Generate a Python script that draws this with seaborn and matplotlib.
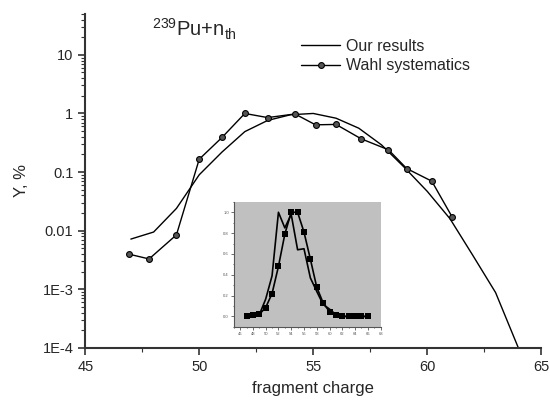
import numpy as np
import pandas as pd
import matplotlib
matplotlib.use('Agg')
import matplotlib.pyplot as plt
import seaborn as sns

# main plot data (log scale, %)
our_z = [47, 48, 49, 50, 51, 52, 53, 54, 55, 56, 57, 58, 59, 60, 61, 62, 63, 64]
our_y = [0.0072, 0.0095, 0.024, 0.09, 0.22, 0.49, 0.76, 0.95, 1.0, 0.83, 0.56, 0.29,
         0.12, 0.047, 0.016, 0.0038, 0.00088, 0.0001]

wahl_z = [46.9, 47.8, 49.0, 50.0, 51.0, 52.0, 53.0, 54.2, 55.1, 56.0, 57.1, 58.3, 59.1, 60.2, 61.1]
wahl_y = [0.0040, 0.0033, 0.0085, 0.166, 0.39, 1.0, 0.85, 0.98, 0.64, 0.65, 0.37, 0.24,
          0.115, 0.070, 0.017]

# inset data (linear, normalised)
ins_z = [47, 48, 49, 50, 51, 52, 53, 54, 55, 56, 57, 58, 59, 60, 61, 62, 63, 64, 65, 66]
ins_sq = [0.0, 0.01, 0.02, 0.085, 0.22, 0.48, 0.79, 1.0, 1.0, 0.81, 0.55, 0.28,
          0.13, 0.045, 0.013, 0.0, 0.0, 0.0, 0.0, 0.0]
ins_line = [0.0, 0.005, 0.015, 0.166, 0.39, 1.0, 0.85, 0.98, 0.64, 0.65, 0.37, 0.24,
            0.115, 0.07, 0.017, 0.0, 0.0, 0.0, 0.0, 0.0]

yticks = [1e-4, 1e-3, 1e-2, 1e-1, 1, 10]
ytick_labels = ['1E-4', '1E-3', '0.01', '0.1', '1', '10']

sns.set_style('ticks')
plt.rcParams['font.family'] = ['Liberation Sans', 'DejaVu Sans']
plt.rcParams['mathtext.fontset'] = 'custom'
plt.rcParams['mathtext.rm'] = 'Liberation Sans'
plt.rcParams['mathtext.it'] = 'Liberation Sans'

fig = plt.figure(figsize=(5.5, 4.07), dpi=100)
ax = fig.add_axes([0.155, 0.145, 0.829, 0.821])

df_our = pd.DataFrame({'z': our_z, 'y': our_y})
df_wahl = pd.DataFrame({'z': wahl_z, 'y': wahl_y})

sns.lineplot(data=df_our, x='z', y='y', ax=ax, color='black', lw=1.0,
             sort=False, label='Our results')
sns.lineplot(data=df_wahl, x='z', y='y', ax=ax, color='black', lw=1.0,
             marker='o', markersize=4.2, markerfacecolor='#555555',
             markeredgecolor='black', markeredgewidth=0.8,
             sort=False, label='Wahl systematics')

ax.set_yscale('log')
ax.set_xlim(45, 65)
ax.set_ylim(1e-4, 50)
ax.set_yticks(yticks)
ax.set_yticklabels(ytick_labels)
ax.set_xticks([45, 50, 55, 60, 65])
ax.set_xticks([47.5, 52.5, 57.5, 62.5], minor=True)
ax.tick_params(axis='both', which='major', labelsize=10.5, length=5, width=1.2, color='#333333')
ax.tick_params(axis='both', which='minor', length=3, width=0.8, color='#333333')
for s in ['top', 'right']:
    ax.spines[s].set_visible(False)
for s in ['left', 'bottom']:
    ax.spines[s].set_linewidth(1.5)
    ax.spines[s].set_color('#333333')

ax.set_xlabel('fragment charge', fontsize=12, labelpad=5)
ax.set_ylabel('Y, %', fontsize=12, labelpad=10)

ax.text(0.147, 0.99, r'$^{239}$Pu+n$_{\mathrm{th}}$', transform=ax.transAxes,
        fontsize=14.5, va='top', ha='left')

leg = ax.legend(loc='upper left', bbox_to_anchor=(0.46, 0.945), frameon=False,
                fontsize=11.5, handlelength=2.4, handletextpad=0.4, labelspacing=0.3,
                borderaxespad=0)

# inset
ins = fig.add_axes([0.425, 0.197, 0.267, 0.307])
ins.set_facecolor('#c0c0c0')
df_ins = pd.DataFrame({'z': ins_z, 'sq': ins_sq, 'ln': ins_line})
sns.lineplot(data=df_ins, x='z', y='ln', ax=ins, color='black', lw=1.2, sort=False)
sns.lineplot(data=df_ins, x='z', y='sq', ax=ins, color='black', lw=1.2, sort=False,
             marker='s', markersize=3.8, markeredgewidth=0)
ins.set_xlim(45, 68)
ins.set_ylim(-0.1, 1.1)
ins.set_xticks(np.arange(46, 69, 2))
ins.set_xticks(np.arange(45, 69, 1), minor=True)
ins.set_yticks([0.0, 0.2, 0.4, 0.6, 0.8, 1.0])
ins.set_yticklabels(['0.0', '0.2', '0.4', '0.6', '0.8', '1.0'])
ins.set_yticks(np.arange(-0.1, 1.11, 0.1), minor=True)
ins.tick_params(axis='both', which='major', labelsize=3, length=2, width=0.6, pad=1.5, colors='#555555')
ins.tick_params(axis='both', which='minor', length=1, width=0.5)
ins.set_xlabel('')
ins.set_ylabel('')
for s in ['top', 'right']:
    ins.spines[s].set_visible(False)
for s in ['left', 'bottom']:
    ins.spines[s].set_linewidth(0.8)
    ins.spines[s].set_color('#555555')

fig.savefig('out.png', dpi=100)
